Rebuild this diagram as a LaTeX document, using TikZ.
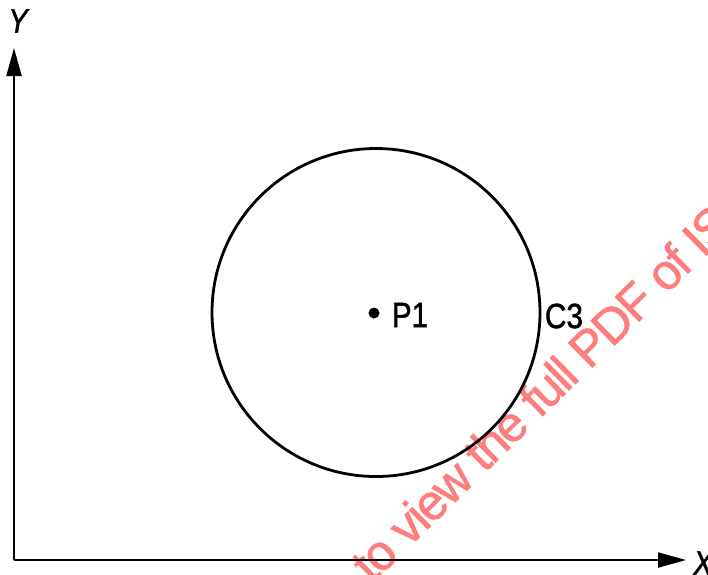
\documentclass[tikz,border=0pt]{standalone}
\usepackage{fontspec}
\setmainfont{Liberation Sans}
\newfontfamily\wmfont[LetterSpace=-4,FakeBold=1.2]{Liberation Sans}
\newfontfamily\lblfont[FakeBold=1.5]{Liberation Sans}
\usetikzlibrary{arrows.meta}
\definecolor{wmred}{RGB}{255,125,125}
\tikzset{
  axisline/.style={line width=2.2pt,-{Triangle[length=28pt,width=15pt]}},
  lbl/.style={font=\lblfont\fontsize{35}{35}\selectfont, inner sep=0pt, xscale=0.85},
  axlbl/.style={font=\lblfont\fontsize{34}{34}\selectfont\itshape, inner sep=0pt, xscale=0.85},
}
\begin{document}
\begin{tikzpicture}[x=1pt,y=-1pt]
\clip (0,0) rectangle (708,574);
\fill[white] (0,0) rectangle (708,574);
% watermark
\node[wmred, rotate=44.5, anchor=base west, inner sep=0pt,
      font=\wmfont\fontsize{50}{50}\selectfont] (wm) at (372,584) {to view the full PDF of ISO};
% axes
\coordinate (O) at (14,560);
\coordinate (ytip) at (14,48);
\coordinate (xtip) at (686,560);
\draw[axisline] (O) -- (ytip);
\draw[axisline] (O) -- (xtip);
\node[axlbl] (ylab) at (18,21) {Y};
\node[axlbl] (xlab) at (703,563) {X};
% circle
\node[draw, circle, line width=2.8pt, minimum size=328pt, inner sep=0pt] (c3) at (376,312.5) {};
\fill (374,313) circle (5.5pt);
\node[lbl] (p1) at (410,315) {P1};
\node[lbl] (c3lab) at (564,316) {C3};
\end{tikzpicture}
\end{document}
